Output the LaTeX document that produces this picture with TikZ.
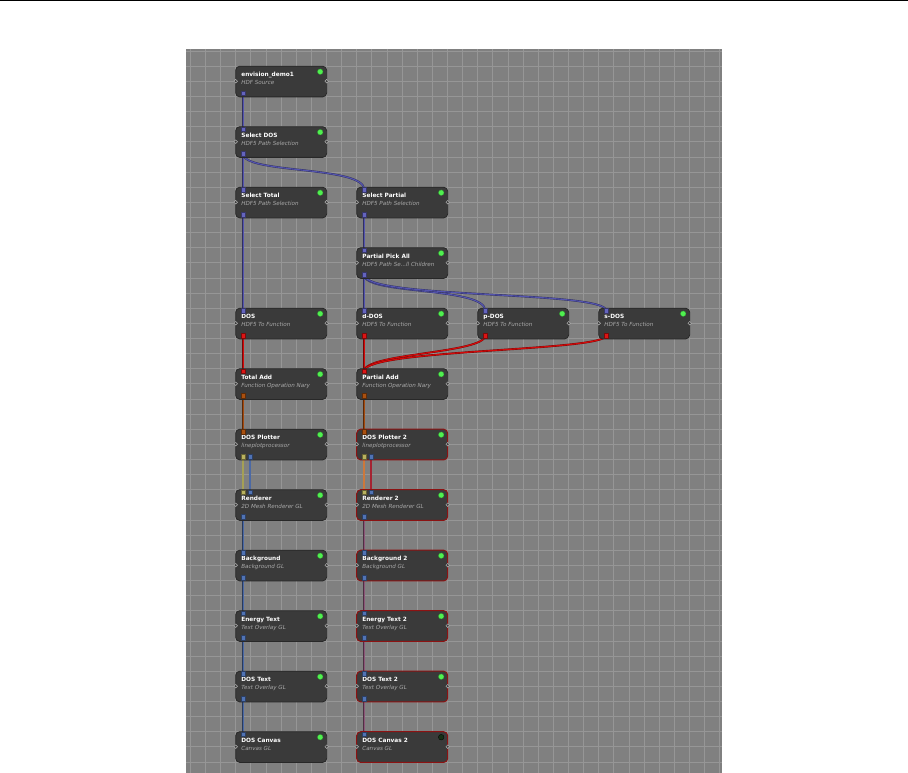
\documentclass[tikz,border=0pt]{standalone}
\usepackage{fontspec}
\newfontfamily\gfont{DejaVu Sans}
\usetikzlibrary{calc}
\pgfdeclarelayer{gridlayer}
\pgfdeclarelayer{edges}
\pgfsetlayers{gridlayer,edges,main}
\definecolor{gridbg}{RGB}{128,128,128}
\definecolor{gridln}{RGB}{150,150,150}
\definecolor{nodefill}{RGB}{58,58,58}
\definecolor{nodeborder}{RGB}{40,40,40}
\definecolor{redb}{RGB}{140,18,18}
\definecolor{subtxt}{RGB}{170,170,170}
\definecolor{ledgreen}{RGB}{80,240,80}
\definecolor{leddark}{RGB}{22,48,22}
\definecolor{hdfp}{RGB}{100,100,190}
\definecolor{redp}{RGB}{220,20,20}
\definecolor{brownp}{RGB}{170,80,15}
\definecolor{yellp}{RGB}{185,178,95}
\definecolor{bluep}{RGB}{80,115,180}
\definecolor{hdfw}{RGB}{85,85,175}
\definecolor{redw}{RGB}{215,10,10}
\definecolor{brownw}{RGB}{165,75,15}
\definecolor{olivew}{RGB}{165,160,85}
\definecolor{bluew}{RGB}{75,105,165}
\definecolor{orangew}{RGB}{205,120,60}
\definecolor{maroonw}{RGB}{165,35,50}
\definecolor{mauvew}{RGB}{140,85,120}
\tikzset{
  gbox/.style={anchor=north west, rectangle, rounded corners=4pt, minimum width=91pt,
    minimum height=30.7pt, inner sep=0pt, outer sep=0pt, fill=nodefill, draw=nodeborder, line width=0.8pt},
  gtitle/.style={anchor=base west, inner sep=0pt, text=white, font=\gfont\bfseries\fontsize{5.8}{7}\selectfont},
  gsub/.style={anchor=base west, inner sep=0pt, text=subtxt, font=\gfont\itshape\fontsize{5.6}{7}\selectfont},
  sidec/.style={circle, minimum size=3.6pt, inner sep=0pt, fill=nodefill, draw=gray!60!white, line width=0.5pt},
  led/.style={circle, minimum size=5.6pt, inner sep=0pt, fill=ledgreen, draw=ledgreen!60!black, line width=0.3pt},
  port/.style={rectangle, minimum size=4.6pt, inner sep=0pt, fill=#1, draw=#1!55!black, line width=0.4pt},
  wire/.style={draw=#1!55!black, line width=0.4pt, double=#1, double distance=1.1pt},
  redframe/.style={gbox/.append style={draw=redb, line width=1pt}},
  offled/.style={led/.append style={fill=leddark, draw=black}},
  gridline/.style={draw=gridln, line width=0.7pt}
}
\newcommand\gnode[6][]{%
  \begin{scope}[#1]
  \node[gbox] (#2) at (#3,#4) {};
  \node[gtitle] (#2-t) at ([xshift=5.5pt,yshift=-10.7pt]#2.north west) {#5};
  \node[gsub] (#2-s) at ([xshift=5.5pt,yshift=-18.5pt]#2.north west) {#6};
  \node[sidec] (#2-l) at ([yshift=-15pt]#2.north west) {};
  \node[sidec] (#2-r) at ([yshift=-15pt]#2.north east) {};
  \node[led] (#2-g) at ([xshift=-6.5pt,yshift=-5.5pt]#2.north east) {};
  \end{scope}}
\newcommand\pin[4]{\node[port=#3] (#1-#2) at ([xshift=#4pt,yshift=-2.4pt]#1.north west) {};}
\newcommand\pout[4]{\node[port=#3] (#1-#2) at ([xshift=#4pt,yshift=3.5pt]#1.south west) {};}
\begin{document}
\begin{tikzpicture}[x=1pt,y=-1pt]
\useasboundingbox (0,0) rectangle (908,773);
\begin{pgfonlayer}{gridlayer}
\fill[white] (0,0) rectangle (908,773);
\draw[black, line width=1.2pt] (0,0.8) -- (908,0.8);
\fill[gridbg] (186,49) rectangle (722,773);
\foreach \k in {-3,...,32} \draw[gridline] ({235.7+15.125*\k},49) -- ({235.7+15.125*\k},773);
\foreach \k in {-1,...,46} \draw[gridline] (186,{66.2+15.125*\k}) -- (722,{66.2+15.125*\k});
\end{pgfonlayer}
% column 0
\gnode{env}{235.7}{66.2}{envision\_demo1}{HDF Source}
\pout{env}{o}{hdfp}{7.5}
\gnode{seldos}{235.7}{126.7}{Select DOS}{HDF5 Path Selection}
\pin{seldos}{i}{hdfp}{7.5}\pout{seldos}{o}{hdfp}{7.5}
\gnode{seltot}{235.7}{187.2}{Select Total}{HDF5 Path Selection}
\pin{seltot}{i}{hdfp}{7.5}\pout{seltot}{o}{hdfp}{7.5}
\gnode{dos}{235.7}{308.2}{DOS}{HDF5 To Function}
\pin{dos}{i}{hdfp}{7.5}\pout{dos}{o}{redp}{7.5}
\gnode{totadd}{235.7}{368.7}{Total Add}{Function Operation Nary}
\pin{totadd}{i}{redp}{7.5}\pout{totadd}{o}{brownp}{7.5}
\gnode{plot}{235.7}{429.2}{DOS Plotter}{lineplotprocessor}
\pin{plot}{i}{brownp}{7.5}\pout{plot}{oa}{yellp}{7.3}\pout{plot}{ob}{bluep}{14.3}
\gnode{rend}{235.7}{489.7}{Renderer}{2D Mesh Renderer GL}
\pin{rend}{ia}{yellp}{7.3}\pin{rend}{ib}{bluep}{14.3}\pout{rend}{o}{bluep}{7.5}
\gnode{bg}{235.7}{550.2}{Background}{Background GL}
\pin{bg}{i}{bluep}{7.5}\pout{bg}{o}{bluep}{7.5}
\gnode{etext}{235.7}{610.7}{Energy Text}{Text Overlay GL}
\pin{etext}{i}{bluep}{7.5}\pout{etext}{o}{bluep}{7.5}
\gnode{dtext}{235.7}{671.2}{DOS Text}{Text Overlay GL}
\pin{dtext}{i}{bluep}{7.5}\pout{dtext}{o}{bluep}{7.5}
\gnode{canvas}{235.7}{731.7}{DOS Canvas}{Canvas GL}
\pin{canvas}{i}{bluep}{7.5}
% column 1
\gnode{selpart}{356.7}{187.2}{Select Partial}{HDF5 Path Selection}
\pin{selpart}{i}{hdfp}{7.5}\pout{selpart}{o}{hdfp}{7.5}
\gnode{pick}{356.7}{247.7}{Partial Pick All}{HDF5 Path Se...ll Children}
\pin{pick}{i}{hdfp}{7.5}\pout{pick}{o}{hdfp}{7.5}
\gnode{ddos}{356.7}{308.2}{d-DOS}{HDF5 To Function}
\pin{ddos}{i}{hdfp}{7.5}\pout{ddos}{o}{redp}{7.5}
\gnode{pdos}{477.7}{308.2}{p-DOS}{HDF5 To Function}
\pin{pdos}{i}{hdfp}{7.5}\pout{pdos}{o}{redp}{7.5}
\gnode{sdos}{598.7}{308.2}{s-DOS}{HDF5 To Function}
\pin{sdos}{i}{hdfp}{7.5}\pout{sdos}{o}{redp}{7.5}
\gnode{partadd}{356.7}{368.7}{Partial Add}{Function Operation Nary}
\pin{partadd}{i}{redp}{7.5}\pout{partadd}{o}{brownp}{7.5}
\gnode[redframe]{plot2}{356.7}{429.2}{DOS Plotter 2}{lineplotprocessor}
\pin{plot2}{i}{brownp}{7.5}\pout{plot2}{oa}{yellp}{7.3}\pout{plot2}{ob}{bluep}{14.3}
\gnode[redframe]{rend2}{356.7}{489.7}{Renderer 2}{2D Mesh Renderer GL}
\pin{rend2}{ia}{yellp}{7.3}\pin{rend2}{ib}{bluep}{14.3}\pout{rend2}{o}{bluep}{7.5}
\gnode[redframe]{bg2}{356.7}{550.2}{Background 2}{Background GL}
\pin{bg2}{i}{bluep}{7.5}\pout{bg2}{o}{bluep}{7.5}
\gnode[redframe]{etext2}{356.7}{610.7}{Energy Text 2}{Text Overlay GL}
\pin{etext2}{i}{bluep}{7.5}\pout{etext2}{o}{bluep}{7.5}
\gnode[redframe]{dtext2}{356.7}{671.2}{DOS Text 2}{Text Overlay GL}
\pin{dtext2}{i}{bluep}{7.5}\pout{dtext2}{o}{bluep}{7.5}
\gnode[redframe,offled]{canvas2}{356.7}{731.7}{DOS Canvas 2}{Canvas GL}
\pin{canvas2}{i}{bluep}{7.5}
% connectors
\begin{pgfonlayer}{edges}
\draw[wire=hdfw] (env-o.center) -- (seldos-i.center);
\draw[wire=hdfw] (seldos-o.center) -- (seltot-i.center);
\draw[wire=hdfw] (seldos-o.center) .. controls ($(seldos-o.center)+(0,20)$) and ($(selpart-i.center)+(0,-24)$) .. (selpart-i.center);
\draw[wire=hdfw] (seltot-o.center) -- (dos-i.center);
\draw[wire=hdfw] (selpart-o.center) -- (pick-i.center);
\draw[wire=hdfw] (pick-o.center) -- (ddos-i.center);
\draw[wire=hdfw] (pick-o.center) .. controls ($(pick-o.center)+(0,20)$) and ($(pdos-i.center)+(0,-24)$) .. (pdos-i.center);
\draw[wire=hdfw] (pick-o.center) .. controls ($(pick-o.center)+(0,24)$) and ($(sdos-i.center)+(0,-20)$) .. (sdos-i.center);
\draw[wire=redw] (dos-o.center) -- (totadd-i.center);
\draw[wire=redw] (ddos-o.center) -- (partadd-i.center);
\draw[wire=redw] (pdos-o.center) .. controls ($(pdos-o.center)+(0,18)$) and ($(partadd-i.center)+(0,-18)$) .. (partadd-i.center);
\draw[wire=redw] (sdos-o.center) .. controls ($(sdos-o.center)+(0,16)$) and ($(partadd-i.center)+(0,-22)$) .. (partadd-i.center);
\draw[wire=brownw] (totadd-o.center) -- (plot-i.center);
\draw[wire=brownw] (partadd-o.center) -- (plot2-i.center);
\draw[wire=olivew] (plot-oa.center) -- (rend-ia.center);
\draw[wire=bluew] (plot-ob.center) -- (rend-ib.center);
\draw[wire=orangew] (plot2-oa.center) -- (rend2-ia.center);
\draw[wire=maroonw] (plot2-ob.center) -- (rend2-ib.center);
\draw[wire=bluew] (rend-o.center) -- (bg-i.center);
\draw[wire=bluew] (bg-o.center) -- (etext-i.center);
\draw[wire=bluew] (etext-o.center) -- (dtext-i.center);
\draw[wire=bluew] (dtext-o.center) -- (canvas-i.center);
\draw[wire=mauvew] (rend2-o.center) -- (bg2-i.center);
\draw[wire=mauvew] (bg2-o.center) -- (etext2-i.center);
\draw[wire=mauvew] (etext2-o.center) -- (dtext2-i.center);
\draw[wire=mauvew] (dtext2-o.center) -- (canvas2-i.center);
\end{pgfonlayer}
\end{tikzpicture}
\end{document}
